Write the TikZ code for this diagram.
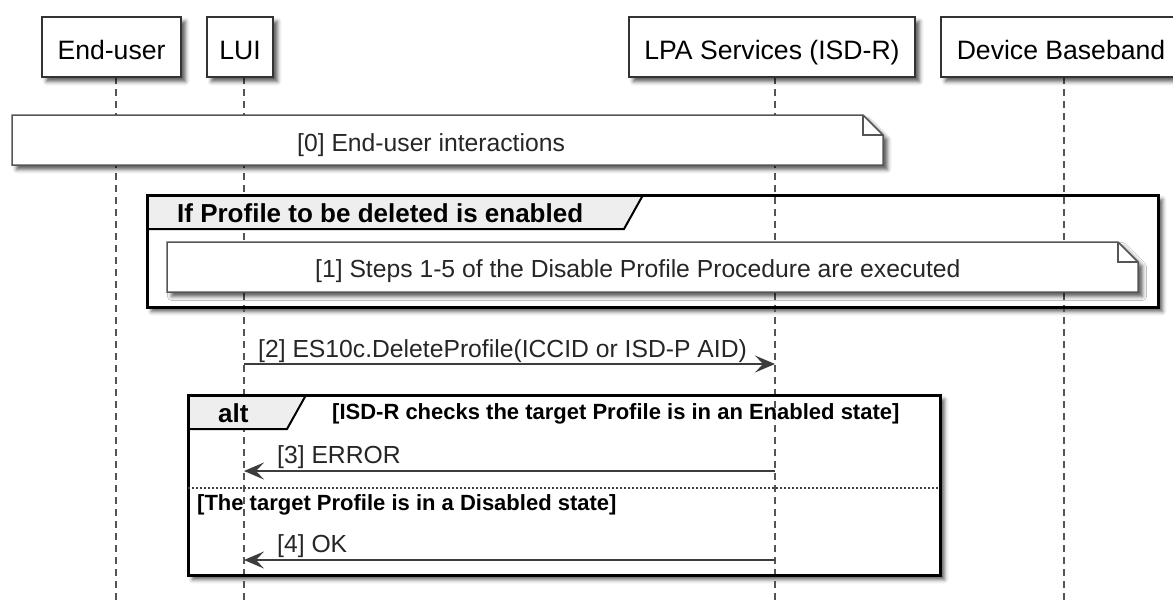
\documentclass[tikz,border=0pt]{standalone}
\usepackage{fontspec}
\setmainfont{Liberation Sans}
\usetikzlibrary{arrows.meta,positioning,shadows.blur}
\definecolor{boxline}{HTML}{333333}
\definecolor{noteline}{HTML}{555555}
\definecolor{tabgray}{HTML}{EEEEEE}
\definecolor{msggray}{HTML}{3C3C3C}
\definecolor{lifegray}{HTML}{555555}

\begin{document}
\begin{tikzpicture}[x=1pt,y=-1pt,
	boxshadow/.style={blur shadow={shadow xshift=4.5pt,shadow yshift=-4.5pt,shadow blur radius=4pt,shadow opacity=65}},
	party/.style={draw=boxline,line width=1.7pt,fill=white,boxshadow,minimum height=60pt,text height=25pt,text depth=0pt,inner sep=0pt,font=\fontsize{26.6}{30}\selectfont},
	lifeline/.style={draw=lifegray,line width=1.3pt,dash pattern=on 7pt off 5pt},
	note/.style={draw=noteline,fill=white,line width=1.5pt,boxshadow},
	fold/.style={draw=noteline,line width=1.5pt},
	txt/.style={anchor=base west,inner sep=0pt,text=black!85,font=\fontsize{24.7}{28}\selectfont},
	groupframe/.style={draw=black,line width=3pt},
	tab/.style={draw=black,line width=2pt,fill=tabgray},
	bold/.style={anchor=base west,inner sep=0pt,font=\bfseries\fontsize{26}{28}\selectfont},
	guard/.style={anchor=base west,inner sep=0pt,font=\bfseries\fontsize{22}{26}\selectfont},
	divider/.style={draw=black!75,line width=1.2pt,dash pattern=on 2pt off 2pt},
	msg/.style={draw=msggray,line width=1.6pt,-{Stealth[length=20pt,width=17pt,inset=8pt]}}
	]
		\useasboundingbox (0,0) rectangle (1173,603);
		\fill[white,boxshadow] (147,195) rectangle (1158,307);
		\fill[white,boxshadow] (188,395) rectangle (940,575);
		\foreach \x in {116,244,775,1064}
			\draw[lifeline] (\x,77) -- (\x,603);
		\foreach \n/\x/\w/\t in {eu/111.5/139/End-user,lui/240/66/LUI,lpa/772/286/{LPA Services (ISD-R)},bb/1061/240/Device Baseband}
			\node[party,minimum width=\w pt] (\n) at (\x,47) {\t};
		% note 0
		\filldraw[note] (12,115) -- (863,115) -- (883,135) -- (883,165) -- (12,165) -- cycle;
		\draw[fold] (863,115) -- (863,135) -- (883,135);
		\node[txt] (n0) at (297,151) {[0] End-user interactions};
		% opt group
		\filldraw[tab] (147,195) -- (643,195) -- (624,229) -- (147,229) -- cycle;
		\draw[groupframe] (147,195) rectangle (1158,307);
		\node[bold] (g1) at (177,222.5) {If Profile to be deleted is enabled};
		\filldraw[note] (167,242) -- (1118,242) -- (1138,262) -- (1138,292) -- (167,292) -- cycle;
		\draw[fold] (1118,242) -- (1118,262) -- (1138,262);
		\node[txt] (n1) at (315,277) {[1] Steps 1-5 of the Disable Profile Procedure are executed};
		% message 2
		\coordinate (lui2) at (244,364);
		\coordinate (lpa2) at (775,364);
		\draw[msg] (lui2) -- (lpa2);
		\node[txt] (m2) at (258,357) {[2] ES10c.DeleteProfile(ICCID or ISD-P AID)};
		% alt group
		\filldraw[tab] (188,395) -- (306,395) -- (287,429) -- (188,429) -- cycle;
		\draw[groupframe] (188,395) rectangle (940,575);
		\node[bold] (alt) at (218,422) {alt};
		\node[guard] (c1) at (332,419) {[ISD-R checks the target Profile is in an Enabled state]};
		\draw[divider] (188,488) -- (940,488);
		\node[guard] (c2) at (197,510) {[The target Profile is in a Disabled state]};
		\coordinate (lpa3) at (775,471);
		\coordinate (lui3) at (244,471);
		\draw[msg] (lpa3) -- (lui3);
		\node[txt] (m3) at (277,463) {[3] ERROR};
		\coordinate (lpa4) at (775,560);
		\coordinate (lui4) at (244,560);
		\draw[msg] (lpa4) -- (lui4);
		\node[txt] (m4) at (277,552) {[4] OK};
\end{tikzpicture}
\end{document}
